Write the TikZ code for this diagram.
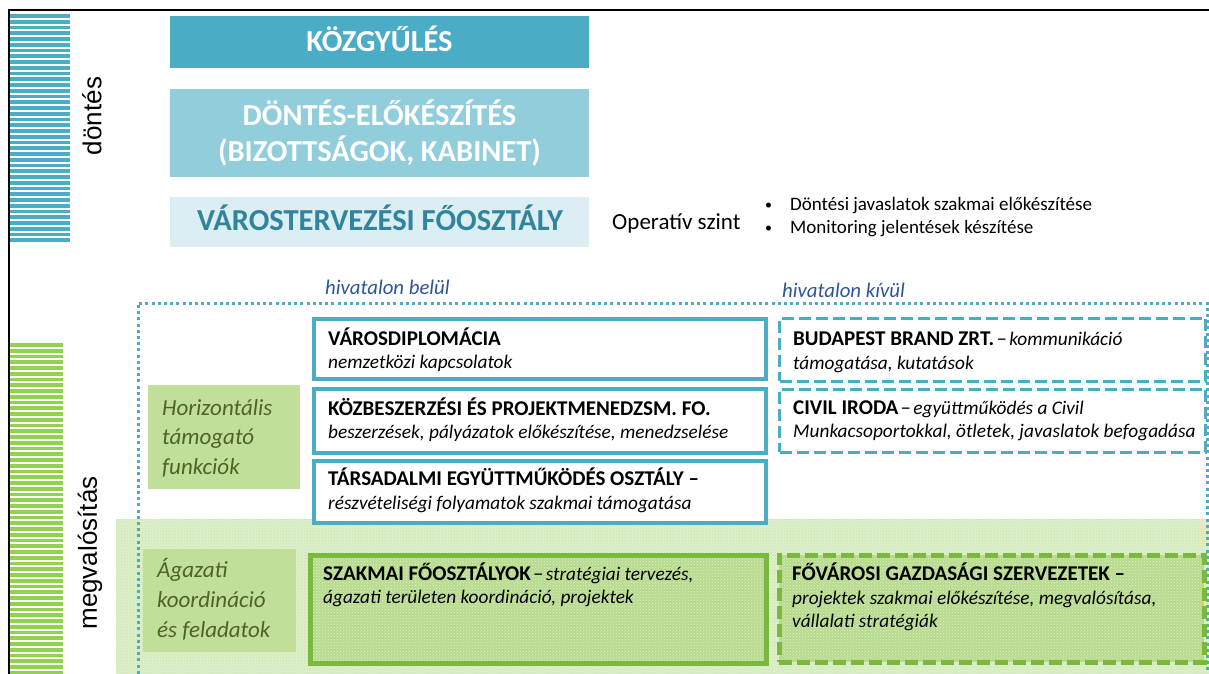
\documentclass[tikz,border=0pt]{standalone}
\usepackage{fontspec}
\setmainfont{Carlito}
\newfontfamily\arialf{Liberation Sans}
\usetikzlibrary{patterns}
\definecolor{kblue}{HTML}{4BACC6}
\definecolor{mblue}{HTML}{92CDDC}
\definecolor{lblue}{HTML}{DAEEF3}
\definecolor{tblue}{HTML}{31849B}
\definecolor{dblue}{HTML}{2F5597}
\definecolor{kgreen}{HTML}{92D050}
\definecolor{bgreen}{HTML}{7AB840}
\definecolor{lgreen}{HTML}{C0E099}
\definecolor{pgreen}{HTML}{DDEFCB}
\definecolor{sgreen}{HTML}{B8DB8E}
\definecolor{tgreen}{HTML}{4F6228}
\newcommand{\bsz}{\fontsize{21}{24}\selectfont\bfseries}
\newcommand{\isz}{\fontsize{19.3}{23}\selectfont\itshape}
\begin{document}
\begin{tikzpicture}[x=1pt,y=-1pt,
  topbox/.style={minimum width=419, inner sep=0, outer sep=0},
  toptext/.style={anchor=base, inner sep=0, font=\fontsize{30.5}{36}\selectfont\bfseries},
  inbox/.style={draw=kblue, line width=3.5, fill=white, inner sep=0, outer sep=0},
  outbox/.style={draw=kblue, line width=3, dash pattern=on 12 off 5, fill=white, inner sep=0, outer sep=0},
  grbox/.style={draw=bgreen, line width=5, fill=sgreen, inner sep=0, outer sep=0},
  sidebox/.style={fill=lgreen, inner sep=0, outer sep=0},
  txt/.style={anchor=base west, inner sep=0},
  sidetxt/.style={anchor=base west, inner sep=0, text=tgreen, font=\fontsize{23}{28}\selectfont\itshape},
  vlabel/.style={rotate=90, inner sep=0, font=\arialf\fontsize{26}{30}\selectfont},
  texture/.style={pattern=crosshatch dots, pattern color=#1}
]
\useasboundingbox (0,0) rectangle (1209,674);
\fill[white] (0,0) rectangle (1209,674);

% stripes
\foreach \i in {0,...,39} { \draw[kblue, line width=3.8] (10,16+\i*5.75) -- (70,16+\i*5.75); }
\foreach \i in {0,...,57} { \draw[kgreen, line width=3.8] (10,345+\i*5.75) -- (63,345+\i*5.75); }

% frame
\draw[black, line width=2] (9,680) -- (9,10) -- (1212,10);

% side labels
\node[vlabel] (dontes) at (92,116) {döntés};
\node[vlabel] (megval) at (90,553) {megvalósítás};

% top boxes
\node[topbox, fill=kblue, minimum height=52] (kozgy) at (379.5,42) {};
\node[toptext, text=white] (kozgyt) at (379.5,52) {KÖZGYŰLÉS};
\node[topbox, fill=mblue, minimum height=88] (dontel) at (379.5,133) {};
\node[toptext, text=white] (dontelt1) at (379.5,125) {DÖNTÉS-ELŐKÉSZÍTÉS};
\node[toptext, text=white] (dontelt2) at (379.5,161) {(BIZOTTSÁGOK, KABINET)};
\node[topbox, fill=lblue, minimum height=50] (varosterv) at (379.5,222) {};
\node[toptext, text=tblue] (varostervt) at (380,230) {VÁROSTERVEZÉSI FŐOSZTÁLY};

\node[txt, font=\fontsize{23}{26}\selectfont] (operativ) at (612,229) {Operatív szint};
\node[txt, font=\fontsize{14}{23}\selectfont] (b1) at (765,209) {•};
\node[txt, font=\fontsize{19}{23}\selectfont] (b1t) at (790,210) {Döntési javaslatok szakmai előkészítése};
\node[txt, font=\fontsize{14}{23}\selectfont] (b2) at (765,232) {•};
\node[txt, font=\fontsize{19}{23}\selectfont] (b2t) at (790,233) {Monitoring jelentések készítése};

% green textured band
\fill[pgreen] (116,519) rectangle (1212,680);
\fill[texture=kgreen!55] (116,519) rectangle (1212,680);

% dotted outer border
\draw[kblue, line width=3, dash pattern=on 3 off 3.2] (138,680) -- (138,303) -- (1207,303) -- (1207,680);

\node[txt, text=dblue, font=\fontsize{20.8}{24}\selectfont\itshape] (belul) at (325,294) {hivatalon belül};
\node[txt, text=dblue, font=\fontsize{20.8}{24}\selectfont\itshape] (kivul) at (782,297) {hivatalon kívül};

% side green boxes
\node[sidebox, minimum width=152, minimum height=104] (horiz) at (224,437) {};
\node[sidetxt] at (162,415) {Horizontális};
\node[sidetxt] at (162,444) {támogató};
\node[sidetxt] at (162,474) {funkciók};
\node[sidebox, minimum width=153, minimum height=103] (agazati) at (219.5,600.5) {};
\node[sidetxt] at (157,577) {Ágazati};
\node[sidetxt] at (157,607) {koordináció};
\node[sidetxt] at (157,637) {és feladatok};

% inside boxes
\node[inbox, minimum width=452, minimum height=60] (vd) at (540,349) {};
\node[txt] at (328,345) {\bsz VÁROSDIPLOMÁCIA};
\node[txt] at (328,368) {\isz nemzetközi kapcsolatok};
\node[inbox, minimum width=452, minimum height=64] (kb) at (540,421) {};
\node[txt] at (328,415) {\bsz KÖZBESZERZÉSI ÉS PROJEKTMENEDZSM. FO.};
\node[txt] at (328,438) {\isz beszerzések, pályázatok előkészítése, menedzselése};
\node[inbox, minimum width=452, minimum height=62] (te) at (540,492) {};
\node[txt] at (328,485) {\bsz TÁRSADALMI EGYÜTTMŰKÖDÉS OSZTÁLY –};
\node[txt] at (328,509) {\isz részvételiségi folyamatok szakmai támogatása};

% outside boxes
\node[outbox, minimum width=426, minimum height=63] (bb) at (992.5,349.5) {};
\node[txt] at (793,345) {{\bsz BUDAPEST BRAND ZRT.} {\fontsize{21}{24}\selectfont –} {\isz kommunikáció}};
\node[txt] at (793,369) {\isz támogatása, kutatások};
\node[outbox, minimum width=426, minimum height=63] (ci) at (992.5,420.5) {};
\node[txt] at (793,414) {{\bsz CIVIL IRODA} {\fontsize{21}{24}\selectfont –} {\isz együttműködés a Civil}};
\node[txt] at (793,437) {\isz Munkacsoportokkal, ötletek, javaslatok befogadása};

% green boxes
\node[grbox, minimum width=456, minimum height=108] (sz) at (538,609) {};
\fill[texture=white!55!sgreen] (313,558) rectangle (763,660);
\node[txt] at (323,580) {{\bsz SZAKMAI FŐOSZTÁLYOK} {\fontsize{21}{24}\selectfont –} {\isz stratégiai tervezés,}};
\node[txt] at (323,603) {\isz ágazati területen koordináció, projektek};
\node[grbox, dash pattern=on 13 off 5, minimum width=425, minimum height=107] (fg) at (991.5,608.5) {};
\fill[texture=white!55!sgreen] (782,558) rectangle (1201,659);
\node[txt] at (792,580) {\bsz FŐVÁROSI GAZDASÁGI SZERVEZETEK –};
\node[txt] at (792,604) {\isz projektek szakmai előkészítése, megvalósítása,};
\node[txt] at (792,627) {\isz vállalati stratégiák};
\end{tikzpicture}
\end{document}
